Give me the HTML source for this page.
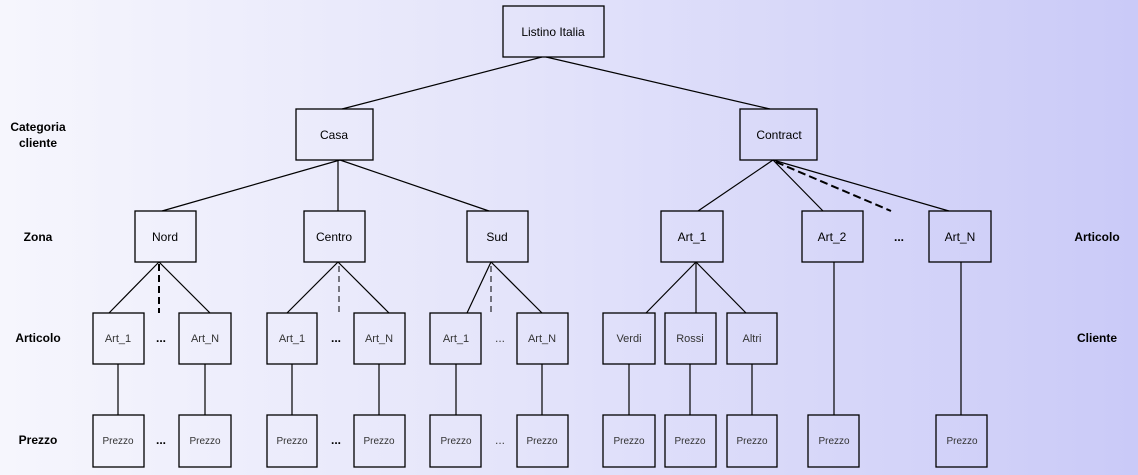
<!DOCTYPE html>
<html><head><meta charset="utf-8"><style>
html,body{margin:0;padding:0;}
body{width:1138px;height:475px;overflow:hidden;background:linear-gradient(to right,#f6f6fd 0%,#e4e4fa 45%,#cacaf8 100%);}
svg{display:block;}
text{font-family:"Liberation Sans",Arial,sans-serif;}
</style></head><body>
<svg width="1138" height="475" viewBox="0 0 1138 475">
<g fill="none" stroke="#000" stroke-width="1.3">
<rect x="503" y="6" width="101" height="51"/>
<rect x="296" y="109" width="77" height="51"/>
<rect x="740" y="109" width="77" height="51"/>
<rect x="135" y="211" width="61" height="51"/>
<rect x="304" y="211" width="61" height="51"/>
<rect x="467" y="211" width="61" height="51"/>
<rect x="661" y="211" width="62" height="51"/>
<rect x="802" y="211" width="61" height="51"/>
<rect x="929" y="211" width="62" height="51"/>
<rect x="93" y="313" width="51" height="51"/><rect x="179" y="313" width="52" height="51"/>
<rect x="267" y="313" width="50" height="51"/><rect x="354" y="313" width="51" height="51"/>
<rect x="430" y="313" width="51" height="51"/><rect x="517" y="313" width="51" height="51"/>
<rect x="603" y="313" width="52" height="51"/><rect x="665" y="313" width="51" height="51"/><rect x="727" y="313" width="50" height="51"/>
<rect x="93" y="415" width="51" height="52"/><rect x="179" y="415" width="52" height="52"/>
<rect x="267" y="415" width="50" height="52"/><rect x="354" y="415" width="51" height="52"/>
<rect x="430" y="415" width="51" height="52"/><rect x="517" y="415" width="51" height="52"/>
<rect x="603" y="415" width="52" height="52"/><rect x="665" y="415" width="51" height="52"/><rect x="727" y="415" width="50" height="52"/>
<rect x="808" y="415" width="51" height="52"/><rect x="936" y="415" width="51" height="52"/>
</g>
<g stroke="#000" stroke-width="1.2" fill="none">
<line x1="542" y1="57" x2="342" y2="109"/>
<line x1="546" y1="57" x2="770" y2="109"/>
<line x1="340" y1="160" x2="162" y2="211"/>
<line x1="338" y1="160" x2="338" y2="211"/>
<line x1="340" y1="160" x2="489" y2="211"/>
<line x1="159" y1="262" x2="109" y2="313"/>
<line x1="159" y1="262" x2="210" y2="313"/>
<line x1="338" y1="262" x2="287" y2="313"/>
<line x1="338" y1="262" x2="389" y2="313"/>
<line x1="491" y1="262" x2="467" y2="313"/>
<line x1="491" y1="262" x2="542" y2="313"/>
<line x1="773" y1="160" x2="698" y2="211"/>
<line x1="773" y1="160" x2="823" y2="211"/>
<line x1="773" y1="160" x2="949" y2="211"/>
<line x1="696" y1="262" x2="646" y2="313"/>
<line x1="696" y1="262" x2="696" y2="313"/>
<line x1="696" y1="262" x2="746" y2="313"/>
<line x1="118" y1="364" x2="118" y2="415"/><line x1="205" y1="364" x2="205" y2="415"/>
<line x1="292" y1="364" x2="292" y2="415"/><line x1="379" y1="364" x2="379" y2="415"/>
<line x1="456" y1="364" x2="456" y2="415"/><line x1="542" y1="364" x2="542" y2="415"/>
<line x1="629" y1="364" x2="629" y2="415"/><line x1="690" y1="364" x2="690" y2="415"/><line x1="752" y1="364" x2="752" y2="415"/>
<line x1="834" y1="262" x2="834" y2="415"/>
<line x1="961" y1="262" x2="961" y2="415"/>
</g>
<g stroke="#000" fill="none">
<line x1="159" y1="264" x2="159" y2="313" stroke-width="2" stroke-dasharray="7,4"/>
<line x1="339" y1="266" x2="339" y2="313" stroke-width="1" stroke-dasharray="6,4"/>
<line x1="491" y1="266" x2="491" y2="313" stroke-width="1" stroke-dasharray="6,4"/>
<line x1="776" y1="162" x2="891" y2="211" stroke-width="2" stroke-dasharray="8,4"/>
</g>
<g font-size="12" text-anchor="middle" fill="#000">
<text x="553" y="36">Listino Italia</text>
<text x="334" y="139">Casa</text>
<text x="779" y="139">Contract</text>
<text x="165" y="241">Nord</text>
<text x="334" y="241">Centro</text>
<text x="497" y="241">Sud</text>
<text x="692" y="241">Art_1</text>
<text x="832" y="241">Art_2</text>
<text x="960" y="241">Art_N</text>
</g>
<g font-size="11" text-anchor="middle" fill="#333">
<text x="118" y="342">Art_1</text><text x="205" y="342">Art_N</text>
<text x="292" y="342">Art_1</text><text x="379" y="342">Art_N</text>
<text x="456" y="342">Art_1</text><text x="542" y="342">Art_N</text>
<text x="629" y="342">Verdi</text><text x="690" y="342">Rossi</text><text x="752" y="342">Altri</text>
</g>
<g font-size="10" text-anchor="middle" fill="#333">
<text x="118" y="444">Prezzo</text><text x="205" y="444">Prezzo</text>
<text x="292" y="444">Prezzo</text><text x="379" y="444">Prezzo</text>
<text x="456" y="444">Prezzo</text><text x="542" y="444">Prezzo</text>
<text x="629" y="444">Prezzo</text><text x="690" y="444">Prezzo</text><text x="752" y="444">Prezzo</text>
<text x="834" y="444">Prezzo</text><text x="962" y="444">Prezzo</text>
</g>
<g font-size="12" font-weight="bold" text-anchor="middle" fill="#000">
<text x="161" y="342">...</text><text x="336" y="342">...</text><text x="500" y="342" font-weight="normal" fill="#444">...</text>
<text x="161" y="444">...</text><text x="336" y="444">...</text><text x="500" y="444" font-weight="normal" fill="#444">...</text>
<text x="899" y="241">...</text>
<text x="38" y="131">Categoria</text>
<text x="38" y="147">cliente</text>
<text x="38" y="241">Zona</text>
<text x="38" y="342">Articolo</text>
<text x="38" y="444">Prezzo</text>
<text x="1097" y="241">Articolo</text>
<text x="1097" y="342">Cliente</text>
</g>
</svg>
</body></html>
